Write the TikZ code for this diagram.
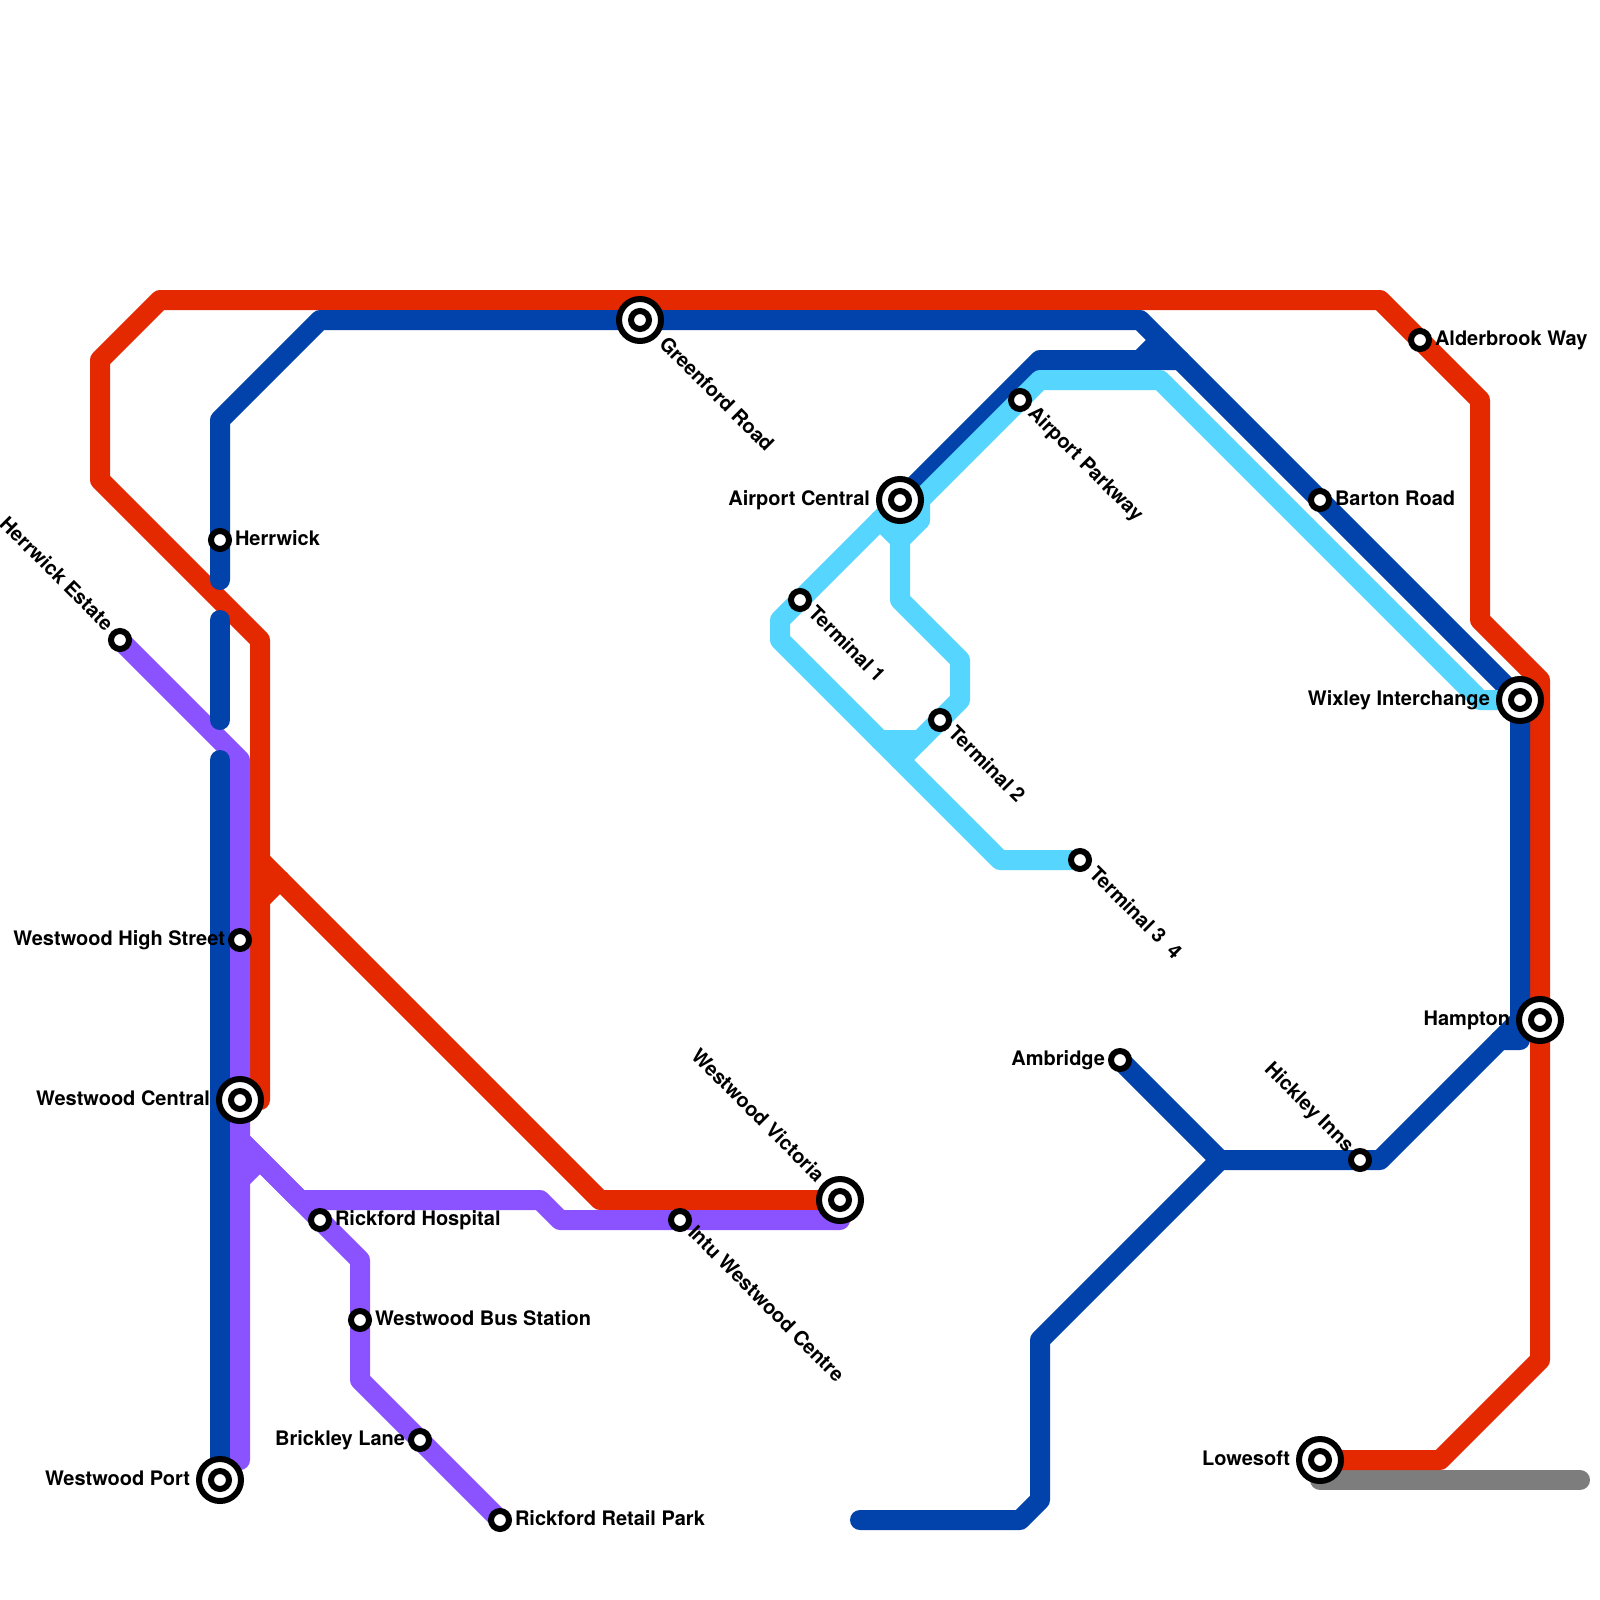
\documentclass[tikz,border=0pt]{standalone}
\usepackage{fontspec}
\setmainfont{TeX Gyre Heros}
\definecolor{linered}{HTML}{E42800}
\definecolor{lineblue}{HTML}{0242AB}
\definecolor{linepurple}{HTML}{8B52FF}
\definecolor{linelight}{HTML}{56D5FF}
\definecolor{linegrey}{HTML}{7D7D7D}
\tikzset{
  metro/.style={line width=10pt,line join=round,line cap=round},
  smallstn/.style={circle,draw=black,fill=white,line width=3pt,minimum size=9pt,inner sep=0pt,outer sep=0pt},
  bigouter/.style={circle,draw=black,fill=white,line width=3pt,minimum size=21pt,inner sep=0pt,outer sep=0pt},
  biginner/.style={circle,draw=black,fill=white,line width=3pt,minimum size=9pt,inner sep=0pt,outer sep=0pt},
  lbl/.style={inner sep=0pt,outer sep=0pt,font=\fontsize{10}{12}\selectfont\bfseries,text=black},
  lblR/.style={lbl,anchor=base west},
  lblL/.style={lbl,anchor=base east},
  lblDR/.style={lbl,anchor=base west,rotate=-45},
  lblUL/.style={lbl,anchor=base east,rotate=-45}
}
\newcommand{\bigstation}[2]{\node[bigouter] (#1) at (#2) {};\node[biginner] (#1-core) at (#2) {};}
\begin{document}
\begin{tikzpicture}[x=0.5pt,y=-0.5pt]
\useasboundingbox (0,0) rectangle (1600,1600);
\fill[white] (0,0) rectangle (1600,1600);
% named points
\foreach \n/\p in {greenford/{640,320},airportc/{900,500},wcentral/{240,1100},wport/{220,1480},wvictoria/{840,1200},wixley/{1520,700},hampton/{1540,1020},lowesoft/{1320,1460},herrwick/{220,540},herrest/{120,640},whigh/{240,940},rhospital/{320,1220},wbus/{360,1320},brickley/{420,1440},rretail/{500,1520},intu/{680,1220},term1/{800,600},term2/{940,720},parkway/{1020,400},term3/{1080,860},ambridge/{1120,1060},hickley/{1360,1160},barton/{1320,500},alder/{1420,340}}{
  \coordinate (p-\n) at (\p);
}
\coordinate (blueA) at (220,580);
\coordinate (blueB) at (220,620);
\coordinate (blueC) at (220,720);
\coordinate (blueD) at (220,760);
\coordinate (hub) at (1220,1160);
\coordinate (blueend) at (860,1520);
\coordinate (redend) at (260,1100);
\coordinate (redbranch) at (260,900);
\coordinate (redtop) at (260,860);
\coordinate (pbranch) at (240,1140);
\coordinate (pstub) at (240,1180);
\coordinate (pend) at (240,1460);
\coordinate (pvend) at (840,1220);
\coordinate (lightjoin) at (900,760);
\coordinate (greyA) at (1320,1480);
\coordinate (greyB) at (1580,1480);
% grey
\draw[metro,linegrey] (greyA) -- (greyB);
% red
\draw[metro,linered] (redend) -- (260,640) -- (100,480) -- (100,360) -- (160,300) -- (1380,300) -- (p-alder) -- (1480,400) -- (1480,620) -- (1540,680) -- (p-hampton) -- (1540,1360) -- (1440,1460) -- (p-lowesoft);
\draw[metro,linered] (p-wvictoria) -- (600,1200) -- (280,880) -- (redbranch);
\draw[metro,linered] (280,880) -- (redtop);
% purple
\draw[metro,linepurple] (p-herrest) -- (240,760) -- (p-whigh) -- (p-wcentral) -- (pbranch) -- (pend);
\draw[metro,linepurple] (pstub) -- (260,1160);
\draw[metro,linepurple] (pbranch) -- (300,1200) -- (540,1200) -- (560,1220) -- (p-intu) -- (pvend);
\draw[metro,linepurple] (pbranch) -- (p-rhospital) -- (360,1260) -- (p-wbus) -- (360,1380) -- (p-brickley) -- (p-rretail);
% blue
\draw[metro,lineblue] (blueA) -- (p-herrwick) -- (220,420) -- (320,320) -- (p-greenford) -- (1140,320) -- (p-barton) -- (p-wixley) -- (1520,1040) -- (1500,1040) -- (1380,1160) -- (p-hickley) -- (hub) -- (p-ambridge);
\draw[metro,lineblue] (1500,1040) -- (1520,1020);
\draw[metro,lineblue] (blueB) -- (blueC);
\draw[metro,lineblue] (blueD) -- (p-wport);
\draw[metro,lineblue] (hub) -- (1040,1340) -- (1040,1500) -- (1020,1520) -- (blueend);
\draw[metro,lineblue] (p-airportc) -- (1040,360) -- (1180,360);
\draw[metro,lineblue] (1140,360) -- (1160,340);
% light blue
\draw[metro,linelight] (p-wixley) -- (1480,700) -- (1160,380) -- (1040,380) -- (p-parkway) -- (920,500) -- (920,520) -- (900,540) -- (900,600) -- (960,660) -- (960,700) -- (p-term2) -- (lightjoin);
\draw[metro,linelight] (p-airportc) -- (p-term1) -- (780,620) -- (780,640) -- (lightjoin) -- (1000,860) -- (p-term3);
\draw[metro,linelight] (880,520) -- (920,520);
\draw[metro,linelight] (880,520) -- (900,540);
\draw[metro,linelight] (880,740) -- (920,740);
% stations
\foreach \n in {herrwick,herrest,whigh,rhospital,wbus,brickley,rretail,intu,term1,term2,parkway,term3,ambridge,hickley,barton,alder}{
  \node[smallstn] (\n) at (p-\n) {};
}
\foreach \n in {greenford,airportc,wcentral,wport,wvictoria,wixley,hampton,lowesoft}{
  \bigstation{\n}{p-\n}
}
% labels
\node[lblDR] (l-greenford) at (658,345) {Greenford Road};
\node[lblL] (l-airportc) at (870,505) {Airport Central};
\node[lblL] (l-wcentral) at (210,1105) {Westwood Central};
\node[lblL] (l-wport) at (190,1485) {Westwood Port};
\node[lblUL] (l-wvictoria) at (816,1183) {Westwood Victoria};
\node[lblL] (l-wixley) at (1490,705) {Wixley Interchange};
\node[lblL] (l-hampton) at (1510,1025) {Hampton};
\node[lblL] (l-lowesoft) at (1290,1465) {Lowesoft};
\node[lblR] (l-herrwick) at (235,545) {Herrwick};
\node[lblUL] (l-herrest) at (105,632) {Herrwick Estate};
\node[lblL] (l-whigh) at (225,945) {Westwood High Street};
\node[lblR] (l-rhospital) at (335,1225) {Rickford Hospital};
\node[lblR] (l-wbus) at (375,1325) {Westwood Bus Station};
\node[lblL] (l-brickley) at (405,1445) {Brickley Lane};
\node[lblR] (l-rretail) at (515,1525) {Rickford Retail Park};
\node[lblDR] (l-intu) at (687,1234) {Intu Westwood Centre};
\node[lblDR] (l-term1) at (807,614) {Terminal 1};
\node[lblDR] (l-term2) at (947,734) {Terminal 2};
\node[lblDR] (l-parkway) at (1027,414) {Airport Parkway};
\node[lblDR] (l-term3) at (1088,875) {Terminal 3\ \ 4};
\node[lblL] (l-ambridge) at (1105,1065) {Ambridge};
\node[lblUL] (l-hickley) at (1346,1153) {Hickley Inns};
\node[lblR] (l-barton) at (1335,505) {Barton Road};
\node[lblR] (l-alder) at (1435,345) {Alderbrook Way};
\end{tikzpicture}
\end{document}
